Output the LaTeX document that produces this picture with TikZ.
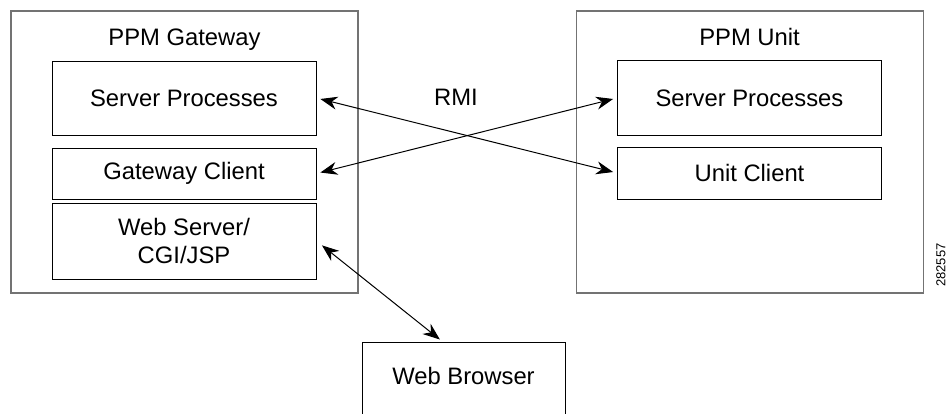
\documentclass[tikz,border=0pt]{standalone}
\usepackage{fontspec}
\setmainfont{Liberation Sans}
\usetikzlibrary{arrows.meta,positioning}

\definecolor{framegray}{gray}{0.45}
\newcommand{\labelfont}{\fontsize{23.8}{28}\selectfont}

\tikzset{
  outerbox/.style={draw=framegray, line width=1.2pt, inner sep=0pt,
    minimum width=347pt, minimum height=282pt},
  innerbox/.style={draw, line width=1pt, inner sep=0pt, align=center,
    minimum width=264pt, font=\labelfont},
  boxtitle/.style={anchor=base, inner sep=0pt, font=\labelfont},
  rmilink/.style={{Stealth[length=17pt,width=13pt]}-{Stealth[length=17pt,width=13pt]},
    line width=1pt, shorten <=4pt, shorten >=4pt},
}

\begin{document}
\begin{tikzpicture}[x=1pt, y=-1pt]

    \useasboundingbox (0,0) rectangle (948,413);

    % outer frames
    \node[outerbox] (gateway) at (184.5,152) {};
    \node[outerbox] (unit) at (750,152) {};
    \node[boxtitle] (gwtitle) at (184.5,45) {PPM Gateway};
    \node[boxtitle] (unittitle) at (749.5,45) {PPM Unit};

    % gateway parts
    \node[innerbox, minimum height=74pt] (gwserver) at (184,98) {Server Processes};
    \node[innerbox, minimum height=51pt] (gwclient) at (184,173.5) {Gateway Client};
    \node[innerbox, minimum height=76pt] (webserver) at (184,241) {Web Server/\\CGI/JSP};

    % unit parts
    \node[innerbox, minimum height=75pt] (unitserver) at (749.5,98) {Server Processes};
    \node[innerbox, minimum height=52pt] (unitclient) at (749.5,173) {Unit Client};

    % browser, cut off by the page
    \node[draw, line width=1pt, inner sep=0pt, minimum width=203pt, minimum height=90pt,
      text depth=23pt, anchor=north, font=\labelfont] (browser) at (463.5,342) {Web Browser};

    \node[boxtitle] (rmi) at (456,105) {RMI};

    % links
    \draw[rmilink] (gwserver.east) -- (unitclient.west);
    \draw[rmilink] (gwclient.east) -- (unitserver.west);
    \draw[rmilink, shorten <=7pt] (webserver.east) -- ([xshift=-20.5pt]browser.north);

    \node[rotate=90, inner sep=0pt, font=\fontsize{13}{13}\selectfont] (figid) at (941,265) {282557};

\end{tikzpicture}
\end{document}
